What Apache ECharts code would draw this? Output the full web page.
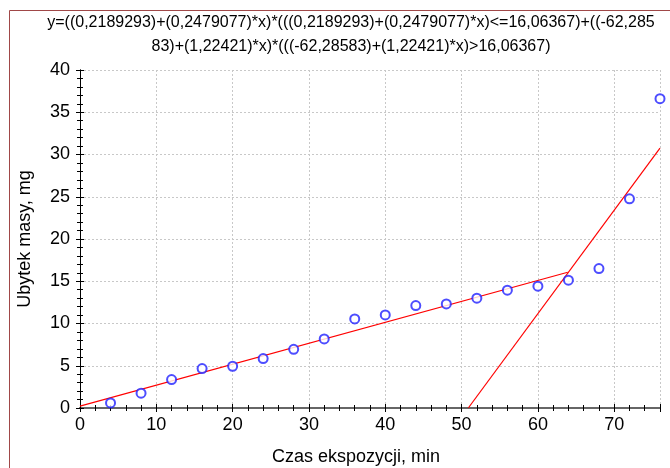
<!DOCTYPE html>
<html><head><meta charset="utf-8">
<script src="https://cdn.jsdelivr.net/npm/echarts@6/dist/echarts.min.js"></script>
<style>html,body{margin:0;padding:0;background:#fff}#c{width:670px;height:468px}</style>
</head><body><div id="c"></div>
<script>
const titleText = "y=((0,2189293)+(0,2479077)*x)*(((0,2189293)+(0,2479077)*x)<=16,06367)+((-62,285\n83)+(1,22421)*x)*(((-62,28583)+(1,22421)*x)>16,06367)";
const xName = "Czas ekspozycji, min";
const yName = "Ubytek masy, mg";
const timeMin = [4, 8, 12, 16, 20, 24, 28, 32, 36, 40, 44, 48, 52, 56, 60, 64, 68, 72, 76];
const massLoss = [0.6, 1.75, 3.36, 4.66, 4.94, 5.85, 6.95, 8.17, 10.54, 11.02, 12.12, 12.32, 13.0, 13.94, 14.41, 15.13, 16.5, 24.76, 36.6];
const fit1 = [[0, 0.219], [63.91, 16.064]];
const fit2 = [[50.88, 0], [76, 30.75]];

const chart = echarts.init(document.getElementById('c'), null, {renderer: 'canvas'});
const font = 'Liberation Sans, Arial, sans-serif';
const common = {
  type: 'value',
  axisTick: {show: true, inside: true, length: 4, lineStyle: {color: '#000'}},
  minorTick: {show: true, splitNumber: 5, length: 3, lineStyle: {color: '#000'}},
  splitLine: {show: false},
};
chart.setOption({
  animation: false,
  grid: {left: 80, right: 10, top: 70, bottom: 60, outerBoundsMode: 'none', containLabel: false},
  graphic: [
    {type: 'rect', shape: {x: 9.5, y: 10.5, width: 720, height: 520}, style: {fill: 'none', stroke: '#a04848', lineWidth: 1}, silent: true},
    {type: 'text', x: 351, y: 11, style: {text: titleText, font: '16px ' + font, fill: '#000', textAlign: 'center', textVerticalAlign: 'top', lineHeight: 24}}
  ],
  xAxis: [
    Object.assign({}, common, {
      min: 0, max: 76, interval: 10, position: 'bottom',
      axisLine: {show: true, lineStyle: {color: '#666', width: 2}},
      axisLabel: {fontSize: 18, fontFamily: font, color: '#000', margin: 8, showMaxLabel: false},
      splitLine: {show: true, lineStyle: {color: '#c8c8c8', type: [2, 2], width: 1}},
      name: xName, nameLocation: 'middle', nameGap: 40,
      nameTextStyle: {fontSize: 18, fontFamily: font, color: '#000', padding: [0, 28, 0, 0]}
    }),
    Object.assign({}, common, {
      min: 0, max: 76, interval: 10, position: 'top',
      axisLine: {show: true, lineStyle: {color: '#666', width: 2}},
      axisLabel: {show: false}
    })
  ],
  yAxis: [
    Object.assign({}, common, {
      min: 0, max: 40, interval: 5, position: 'left',
      axisLine: {show: true, lineStyle: {color: '#000', width: 1}},
      axisLabel: {fontSize: 18, fontFamily: font, color: '#000', margin: 10},
      splitLine: {show: true, lineStyle: {color: '#c8c8c8', type: [2, 2], width: 1}},
      name: yName, nameLocation: 'middle', nameGap: 46,
      nameTextStyle: {fontSize: 18, fontFamily: font, color: '#000'}
    }),
    Object.assign({}, common, {
      min: 0, max: 40, interval: 5, position: 'right',
      axisLine: {show: true, lineStyle: {color: '#000', width: 1}},
      axisLabel: {show: false}
    })
  ],
  series: [
    {type: 'line', data: fit1, showSymbol: false, symbol: 'none', lineStyle: {color: '#ff0000', width: 1.2}, z: 3},
    {type: 'line', data: fit2, showSymbol: false, symbol: 'none', lineStyle: {color: '#ff0000', width: 1.2}, z: 3},
    {type: 'scatter', data: timeMin.map((t, i) => [t, massLoss[i]]), symbol: 'emptyCircle', symbolSize: 9,
     itemStyle: {color: '#2020ff', borderWidth: 1}, clip: false, z: 4}
  ]
});
</script></body></html>
